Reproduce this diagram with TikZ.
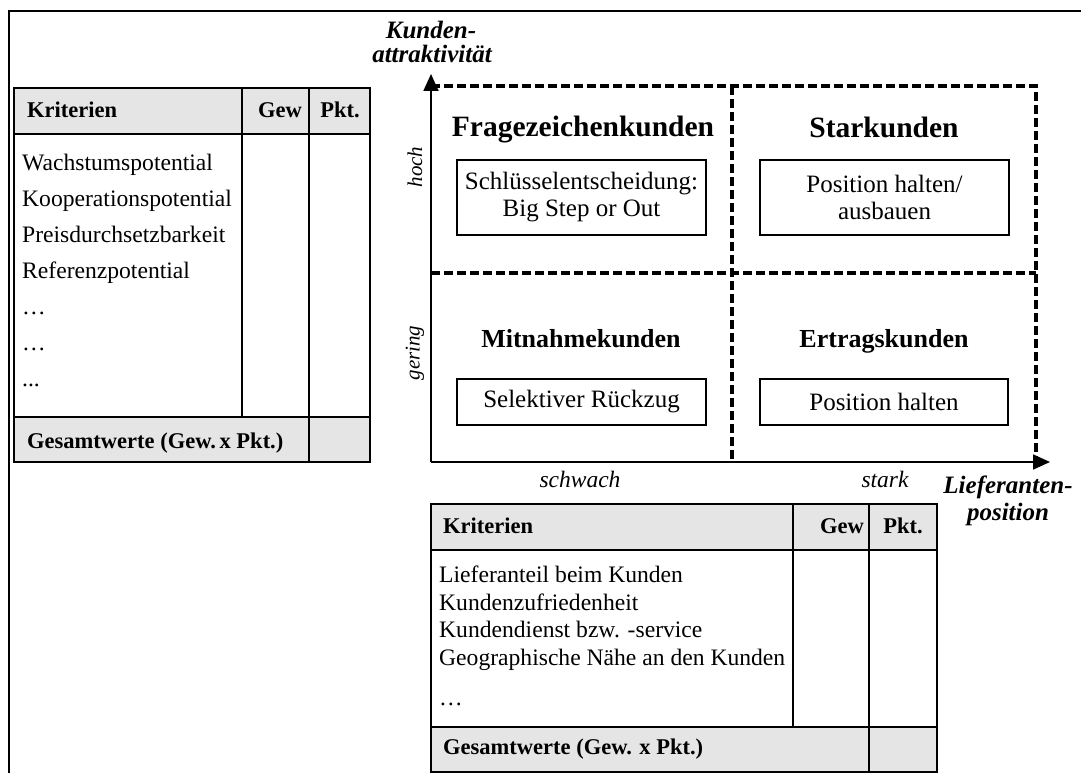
\documentclass[tikz,border=0pt]{standalone}
\usepackage{fontspec}
\setmainfont{Liberation Serif}
\usetikzlibrary{arrows.meta}

\tikzset{
  frameline/.style={line width=2.2pt},
  gridline/.style={line width=1.7pt},
  headfill/.style={fill=black!10},
  quadline/.style={dash pattern=on 9pt off 4pt, line width=3.4pt},
  axisline/.style={line width=1.8pt, -{Triangle[length=17pt,width=15pt]}},
  body/.style={font=\fontsize{23.6}{28}\selectfont, inner sep=0pt, anchor=base west},
  head/.style={font=\fontsize{22.5}{27}\selectfont\bfseries, inner sep=0pt, anchor=base west},
  headr/.style={head, anchor=base east},
  headc/.style={head, anchor=base},
  quadbig/.style={font=\fontsize{29.5}{34}\selectfont\bfseries, inner sep=0pt, anchor=base},
  quadsmall/.style={font=\fontsize{26}{30}\selectfont\bfseries, inner sep=0pt, anchor=base},
  actionbox/.style={draw, line width=1.7pt, font=\fontsize{25}{27}\selectfont, align=center, inner sep=0pt},
  axisval/.style={font=\fontsize{23.5}{28}\selectfont\itshape, inner sep=0pt, anchor=base},
  axisvalrot/.style={font=\fontsize{21}{25}\selectfont\itshape, inner sep=0pt, rotate=90},
  axistitle/.style={font=\fontsize{25}{28}\selectfont\bfseries\itshape, inner sep=0pt, anchor=base},
}

\begin{document}
\begin{tikzpicture}[x=1pt,y=-1pt]
\useasboundingbox (0,0) rectangle (1081,773);
\clip (0,0) rectangle (1081,773);

% outer frame
\draw[frameline] (9,11) rectangle (1200,900);

% ---------- left criteria table ----------
\fill[headfill] (14,88) rectangle (370,134);
\fill[headfill] (14,417) rectangle (370,462);
\draw[gridline] (14,88) rectangle (370,462);
\draw[gridline] (14,134) -- (370,134);
\draw[gridline] (14,417) -- (370,417);
\draw[gridline] (242,88) -- (242,417);
\draw[gridline] (309,88) -- (309,462);

\node[head]  (lk)   at (27,118)  {Kriterien};
\node[headr] (lg)   at (302,118) {Gew};
\node[headc] (lp)   at (340,118) {Pkt.};
\node[body]  (l1)   at (22,170)  {Wachstumspotential};
\node[body]  (l2)   at (22,206)  {Kooperationspotential};
\node[body]  (l3)   at (22,242)  {Preisdurchsetzbarkeit};
\node[body]  (l4)   at (22,278)  {Referenzpotential};
\node[body]  (l5)   at (22,314)  {…};
\node[body]  (l6)   at (22,350)  {…};
\node[body]  (l7)   at (22,386)  {...};
\node[head]  (lsum) at (27,448)  {Gesamtwerte (Gew.\,x Pkt.)};

% ---------- portfolio matrix ----------
\coordinate (O)    at (431,462);
\coordinate (ytip) at (431,74);
\coordinate (xtip) at (1050,462);
\coordinate (tl)   at (431,86);
\coordinate (tm)   at (732,86);
\coordinate (tr)   at (1036,86);
\coordinate (ml)   at (431,273);
\coordinate (mr)   at (1036,273);
\coordinate (bm)   at (732,462);
\coordinate (br)   at (1036,462);

\draw[quadline] (tl) -- (tr) -- (br);
\draw[quadline] (tm) -- (bm);
\draw[quadline] (ml) -- (mr);

\draw[axisline] (O) -- (ytip);
\draw[axisline] (O) -- (xtip);

\node[axistitle] (ya1) at (431,39)   {Kunden-};
\node[axistitle] (ya2) at (432,63)   {attraktivität};
\node[axistitle] (xa1) at (1008,493) {Lieferanten-};
\node[axistitle] (xa2) at (1008,520) {position};

\node[axisvalrot] (hoch)   at (415,167) {hoch};
\node[axisvalrot] (gering) at (415,353) {gering};
\node[axisval] (schwach) at (580,487) {schwach};
\node[axisval] (stark)   at (885,487) {stark};

\node[quadbig]   (q1) at (583,136) {Fragezeichenkunden};
\node[quadbig]   (q2) at (884,138) {Starkunden};
\node[quadsmall] (q3) at (581,347) {Mitnahmekunden};
\node[quadsmall] (q4) at (884,347) {Ertragskunden};

\node[actionbox, minimum width=249pt, minimum height=75pt] (b1) at (581.5,197.5)
  {Schlüsselentscheidung:\\Big Step or Out};
\node[actionbox, minimum width=249pt, minimum height=75pt] (b2) at (884.5,197.5)
  {Position halten/\\ausbauen};
\node[actionbox, minimum width=249pt, minimum height=46pt] (b3) at (581.5,402)
  {Selektiver Rückzug};
\node[actionbox, minimum width=248pt, minimum height=46pt] (b4) at (884,402)
  {Position halten};

% ---------- bottom criteria table ----------
\fill[headfill] (431,504) rectangle (937,550);
\fill[headfill] (431,727) rectangle (937,772);
\draw[gridline] (431,504) rectangle (937,772);
\draw[gridline] (431,550) -- (937,550);
\draw[gridline] (431,727) -- (937,727);
\draw[gridline] (793,504) -- (793,727);
\draw[gridline] (869,504) -- (869,772);

\node[head]  (bk)   at (443,533) {Kriterien};
\node[headr] (bg)   at (864,533) {Gew};
\node[headc] (bp)   at (903,533) {Pkt.};
\node[body]  (m1)   at (439,582) {Lieferanteil beim Kunden};
\node[body]  (m2)   at (439,610) {Kundenzufriedenheit};
\node[body]  (m3)   at (439,637) {Kundendienst bzw. -service};
\node[body]  (m4)   at (439,665) {Geographische Nähe an den Kunden};
\node[body]  (m5)   at (439,705) {…};
\node[head]  (bsum) at (443,754) {Gesamtwerte (Gew. x Pkt.)};
\end{tikzpicture}
\end{document}
